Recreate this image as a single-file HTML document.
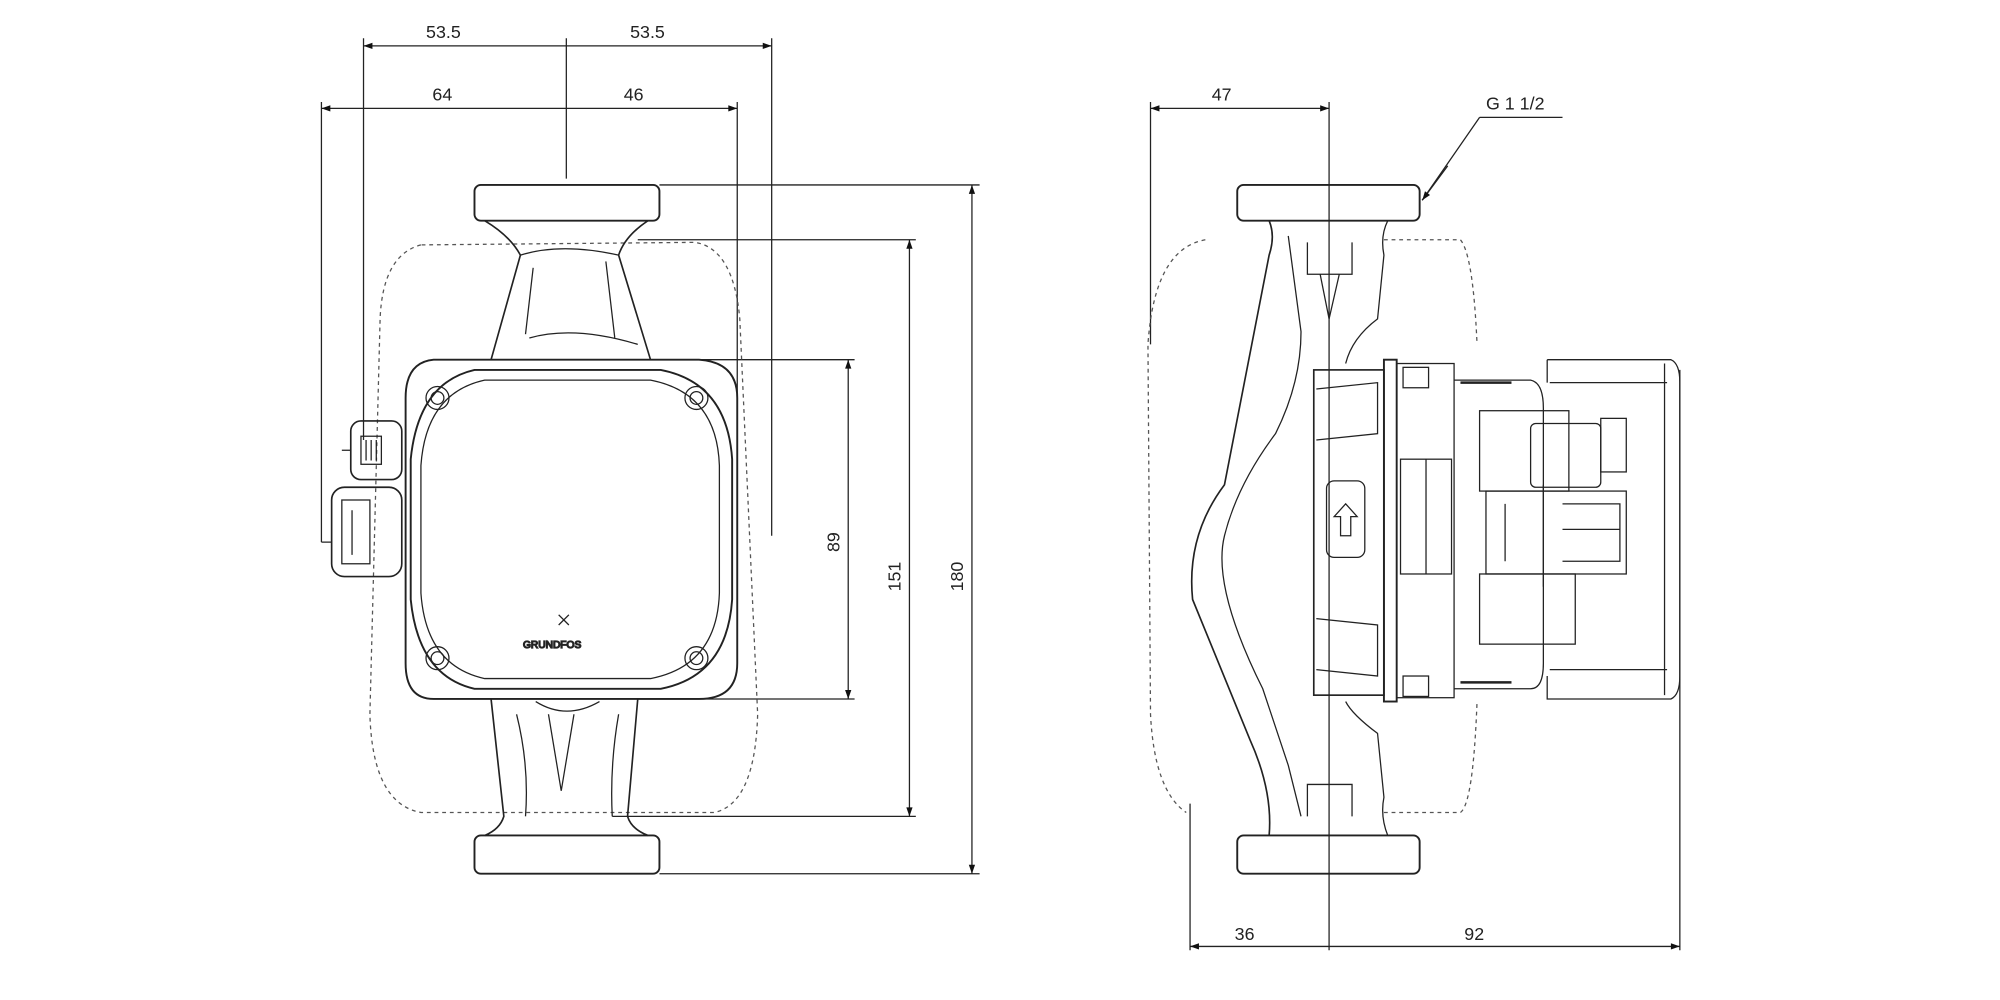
<!DOCTYPE html>
<html><head><meta charset="utf-8"><style>
html,body{margin:0;padding:0;background:#fff;}
svg{display:block;}
text{font-family:"Liberation Sans",sans-serif;font-size:14px;fill:#222;}
</style></head><body>
<svg width="2000" height="1000" viewBox="0 0 1568 784" xmlns="http://www.w3.org/2000/svg">
<defs>
<marker id="a" viewBox="0 0 10 10" refX="10" refY="5" markerWidth="9" markerHeight="7" orient="auto-start-reverse" markerUnits="userSpaceOnUse"><path d="M0,1.5 L10,5 L0,8.5 z" fill="#111"/></marker>
</defs>
<g stroke="#222" stroke-width="1" fill="none">
<!-- LEFT VIEW extension lines -->
<path d="M252,80V425 M285,30V345 M444,30V140 M605,30V420 M578,80V470"/>
<path d="M517,145H768 M517,685H768 M500,188H718 M480,640H718 M500,282H670 M500,548H670"/>
<!-- dims -->
<path d="M285,36H444 M444,36H605" marker-start="url(#a)" marker-end="url(#a)"/>
<path d="M252,85H444 M444,85H578" marker-start="url(#a)" marker-end="url(#a)"/>
<path d="M665,282V548" marker-start="url(#a)" marker-end="url(#a)"/>
<path d="M713,188V640" marker-start="url(#a)" marker-end="url(#a)"/>
<path d="M762,145V685" marker-start="url(#a)" marker-end="url(#a)"/>
<!-- dashed outline -->
<path d="M330,192 Q300,200 298,250 L290,560 Q292,630 330,637 L560,637 Q592,630 594,560 L580,250 Q575,195 545,190 Z" stroke-dasharray="3,3" stroke="#555"/>
<!-- flanges -->
<rect x="372" y="145" width="145" height="28" rx="5" stroke-width="1.5"/>
<rect x="372" y="655" width="145" height="30" rx="5" stroke-width="1.5"/>
<!-- upper body -->
<path d="M380,173 Q400,185 408,200 L385,282 M508,173 Q490,185 485,200 L510,282" stroke-width="1.3"/>
<path d="M408,200 Q440,190 485,200 M415,265 Q450,255 500,270 M418,210 L412,262 M475,205 L482,265"/>
<!-- lower body -->
<path d="M385,548 L395,640 Q392,650 380,655 M500,548 L492,640 Q495,650 508,655" stroke-width="1.3"/>
<path d="M405,560 Q415,600 412,640 M485,560 Q478,600 480,640 M430,560 L440,620 L450,560 M420,550 Q444,565 470,550"/>
<!-- head -->
<path d="M340,282 H548 Q578,284 578,312 V520 Q578,548 548,548 H340 Q318,548 318,520 V312 Q318,284 340,282 Z" stroke-width="1.5"/>
<path d="M372,290 H518 Q570,300 574,360 V470 Q570,530 518,540 H372 Q328,530 322,470 V360 Q328,300 372,290 Z" stroke-width="1.5"/>
<path d="M380,298 H510 Q562,308 564,365 V465 Q562,522 510,532 H380 Q334,522 330,465 V365 Q334,308 380,298 Z"/>
<circle cx="343" cy="312" r="9"/><circle cx="343" cy="312" r="5"/>
<circle cx="546" cy="312" r="9"/><circle cx="546" cy="312" r="5"/>
<circle cx="343" cy="516" r="9"/><circle cx="343" cy="516" r="5"/>
<circle cx="546" cy="516" r="9"/><circle cx="546" cy="516" r="5"/>
<!-- connectors left -->
<rect x="275" y="330" width="40" height="46" rx="8" stroke-width="1.3"/>
<rect x="283" y="342" width="16" height="22"/>
<path d="M287,345V361 M291,345V361 M295,345V361 M275,353H268"/>
<rect x="260" y="382" width="55" height="70" rx="10" stroke-width="1.3"/>
<rect x="268" y="392" width="22" height="50"/>
<path d="M252,425H260 M276,400V435"/>
<text x="410" y="508" font-size="8" style="font-size:8px">GRUNDFOS</text>
<path d="M438,482 l8,8 m0,-8 l-8,8"/>
</g>
<g>
<text x="334" y="30">53.5</text><text x="494" y="30">53.5</text>
<text x="339" y="79">64</text><text x="489" y="79">46</text>
<text transform="translate(658,425) rotate(-90)" text-anchor="middle">89</text>
<text transform="translate(706,452) rotate(-90)" text-anchor="middle">151</text>
<text transform="translate(755,452) rotate(-90)" text-anchor="middle">180</text>
<text x="950" y="79">47</text>
<text x="968" y="737">36</text><text x="1148" y="737">92</text>
<text x="1165" y="86">G 1 1/2</text>
</g>
<g stroke="#222" stroke-width="1" fill="none">
<!-- RIGHT VIEW -->
<path d="M902,80V270 M1042,80V745 M933,630V745 M1317,290V745"/>
<path d="M902,85H1042" marker-start="url(#a)" marker-end="url(#a)"/>
<path d="M933,742H1042 M1042,742H1317" marker-start="url(#a)" marker-end="url(#a)"/>
<path d="M1160,92H1225 M1160,92L1115,157" />
<path d="M1135,130L1115,157" marker-end="url(#a)"/>
<path d="M945,188 Q905,195 900,270 L902,560 Q905,620 930,637 M1085,188 H1145 Q1155,200 1158,270 M1085,637 H1145 Q1155,630 1158,550" stroke-dasharray="3,3" stroke="#555"/>
<rect x="970" y="145" width="143" height="28" rx="5" stroke-width="1.5"/>
<rect x="970" y="655" width="143" height="30" rx="5" stroke-width="1.5"/>
<path d="M995,173 Q1000,185 995,200 L960,380 Q930,420 935,470 L980,580 Q998,620 995,655" stroke-width="1.3"/>
<path d="M1088,173 Q1082,185 1085,200 L1080,250 Q1060,265 1055,285"/>
<path d="M1088,655 Q1082,640 1085,625 L1080,575 Q1060,560 1055,550"/>
<path d="M1010,185 L1020,260 Q1020,300 1000,340 Q970,380 960,420 Q950,460 990,540 L1010,600 L1020,640"/>
<path d="M1025,190 V215 H1060 V190 M1025,640 V615 H1060 V640 M1035,215 L1042,250 L1050,215"/>
<rect x="1030" y="290" width="55" height="255" stroke-width="1.3"/>
<rect x="1040" y="377" width="30" height="60" rx="6"/>
<path d="M1051,420 V405 H1046 L1055,395 L1064,405 H1059 V420 Z"/>
<path d="M1032,305 L1080,300 V340 L1032,345 M1032,485 L1080,490 V530 L1032,525"/>
<rect x="1085" y="282" width="10" height="268" stroke-width="1.5"/>
<rect x="1095" y="285" width="45" height="262"/>
<rect x="1098" y="360" width="40" height="90"/>
<path d="M1118,360V450"/>
<rect x="1100" y="288" width="20" height="16"/><rect x="1100" y="530" width="20" height="16"/>
<path d="M1140,298 H1200 Q1210,300 1210,320 V520 Q1210,540 1200,540 H1140"/>
<rect x="1160" y="322" width="70" height="63"/>
<rect x="1200" y="332" width="55" height="50" rx="4"/>
<rect x="1255" y="328" width="20" height="42"/>
<rect x="1165" y="385" width="110" height="65"/>
<path d="M1180,395 V440 M1210,380 V460 M1225,395 H1270 V440 H1225 M1225,415 H1270"/>
<rect x="1160" y="450" width="75" height="55"/>
<path d="M1213,282 H1310 Q1317,285 1317,300 V530 Q1317,545 1310,548 H1213 V530 M1213,282 V300 M1215,300 H1307 M1215,525 H1307 M1305,285 V545"/>
<path d="M1145,300 H1185 M1145,535 H1185" stroke-width="2"/>
</g>
</svg>
</body></html>
